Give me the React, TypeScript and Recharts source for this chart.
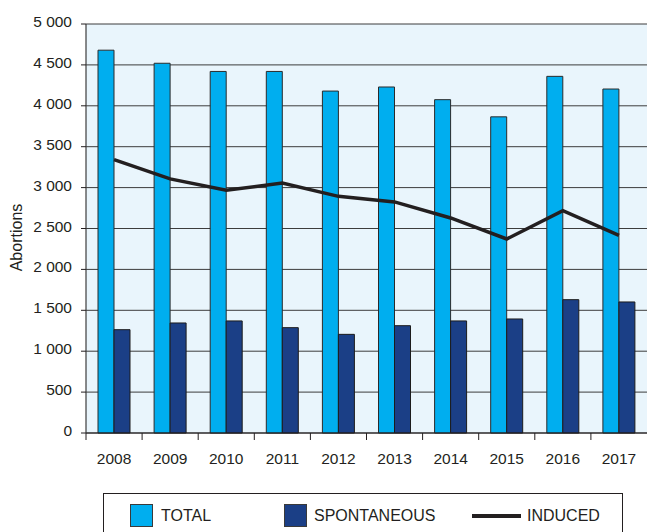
import React from 'react';
import { ComposedChart, Bar, Line, XAxis, YAxis, CartesianGrid, Legend } from 'recharts';

const years = ['2008', '2009', '2010', '2011', '2012', '2013', '2014', '2015', '2016', '2017'];
const totalValues = [4680, 4520, 4420, 4420, 4180, 4230, 4075, 3865, 4360, 4205];
const spontaneousValues = [1263, 1345, 1370, 1288, 1206, 1312, 1370, 1394, 1630, 1602];
const inducedValues = [3342, 3106, 2967, 3057, 2893, 2825, 2629, 2372, 2718, 2416];
const yTicks = [0, 500, 1000, 1500, 2000, 2500, 3000, 3500, 4000, 4500, 5000];
const seriesNames = ['TOTAL', 'SPONTANEOUS', 'INDUCED'];

const data = years.map((year, i) => ({
  year,
  total: totalValues[i],
  spontaneous: spontaneousValues[i],
  induced: inducedValues[i],
}));

const FONT = '"Liberation Sans", Arial, sans-serif';
const INK = '#231f20';
const TOTAL_COLOR = '#00aeef';
const SPONT_COLOR = '#1b3f86';

const fmt = (v: number) => {
  const s = String(v);
  if (s.length <= 3) return s;
  return s.slice(0, s.length - 3) + ' ' + s.slice(s.length - 3);
};

const XTick = (props: any) => {
  const { x, y, payload } = props;
  const half = payload && typeof payload.offset === 'number' && payload.offset > 0 ? payload.offset : 28;
  const tx = x - half;
  return (
    <g>
      <line x1={tx} x2={tx} y1={y - 20} y2={y - 13} stroke={INK} strokeWidth={1} />
      <text x={x} y={y} dy="0.71em" textAnchor="middle" fontFamily={FONT} fontSize={15.5} fill={INK}>
        {payload.value}
      </text>
    </g>
  );
};

const YLabel = (p: any) => {
  const vb = p.viewBox || { x: 0, y: 0, width: 0, height: 0 };
  const cx = vb.x + 16;
  const cy = vb.y + vb.height / 2 + 9;
  return (
    <text
      x={cx}
      y={cy}
      transform={`rotate(-90 ${cx} ${cy})`}
      textAnchor="middle"
      dominantBaseline="central"
      fontFamily={FONT}
      fontSize={16}
      fill={INK}
    >
      Abortions
    </text>
  );
};

const itemPos = [
  { mark: 26, text: 57 },
  { mark: 180, text: 210 },
  { mark: 368, text: 423 },
];

const LegendBox = (props: any) => {
  const raw = props.payload || [];
  const payload = seriesNames
    .map((n) => raw.find((e: any) => e.value === n))
    .filter(Boolean);
  return (
    <div
      style={{
        boxSizing: 'border-box',
        width: 520,
        height: 45,
        border: `1.5px solid ${INK}`,
        position: 'relative',
        fontFamily: FONT,
        fontSize: 16,
        color: INK,
        background: '#fff',
      }}
    >
      {payload.map((entry: any, i: number) => {
        const pos = itemPos[i] || itemPos[0];
        const isLine = entry.type === 'line';
        return (
          <React.Fragment key={i}>
            {isLine ? (
              <div
                style={{
                  position: 'absolute',
                  left: pos.mark,
                  top: 20,
                  width: 49,
                  height: 3.5,
                  background: entry.color,
                }}
              />
            ) : (
              <div
                style={{
                  position: 'absolute',
                  left: pos.mark,
                  top: 10,
                  width: 23,
                  height: 23,
                  boxSizing: 'border-box',
                  border: '1px solid #3a3a3a',
                  background: entry.color,
                }}
              />
            )}
            <div
              style={{
                position: 'absolute',
                left: pos.text,
                top: 10,
                height: 23,
                lineHeight: '23px',
                whiteSpace: 'nowrap',
              }}
            >
              {entry.value}
            </div>
          </React.Fragment>
        );
      })}
    </div>
  );
};

export default function App() {
  return (
    <div
      style={{
        position: 'absolute',
        left: 0,
        top: 0,
        width: 647,
        height: 532,
        overflow: 'hidden',
        background: '#fff',
      }}
    >
      <ComposedChart
        width={647}
        height={532}
        data={data}
        margin={{ top: 24, right: 0, bottom: 59, left: 0 }}
        barGap={0}
      >
        <CartesianGrid vertical={false} stroke="#3c3c3c" strokeWidth={1} fill="#e9f5fc" fillOpacity={1} />
        <XAxis
          dataKey="year"
          height={40}
          tickLine={false}
          tickSize={7}
          tickMargin={13}
          axisLine={{ stroke: INK, strokeWidth: 1.2 }}
          tick={<XTick />}
          interval={0}
        />
        <YAxis
          width={86}
          domain={[0, 5000]}
          ticks={yTicks}
          interval={0}
          tickFormatter={fmt}
          tickSize={5}
          tickMargin={9}
          tickLine={{ stroke: INK }}
          axisLine={{ stroke: '#3c3c3c', strokeWidth: 1.2 }}
          tick={{ fontFamily: FONT, fontSize: 15.5, fill: INK, dy: -2.5 }}
          label={{ content: <YLabel /> }}
        />
        <Legend
          layout="horizontal"
          verticalAlign="middle"
          align="center"
          wrapperStyle={{ left: 103, top: 493, width: 520, height: 45 }}
          content={<LegendBox />}
        />
        <Bar
          dataKey="total"
          name={seriesNames[0]}
          fill={TOTAL_COLOR}
          stroke="#2b2b2b"
          strokeWidth={1}
          barSize={16}
          isAnimationActive={false}
        />
        <Bar
          dataKey="spontaneous"
          name={seriesNames[1]}
          fill={SPONT_COLOR}
          stroke="#1c1c1c"
          strokeWidth={1}
          barSize={16}
          isAnimationActive={false}
        />
        <Line
          dataKey="induced"
          name={seriesNames[2]}
          stroke={INK}
          strokeWidth={3.5}
          dot={false}
          activeDot={false}
          legendType="line"
          isAnimationActive={false}
        />
      </ComposedChart>
    </div>
  );
}
